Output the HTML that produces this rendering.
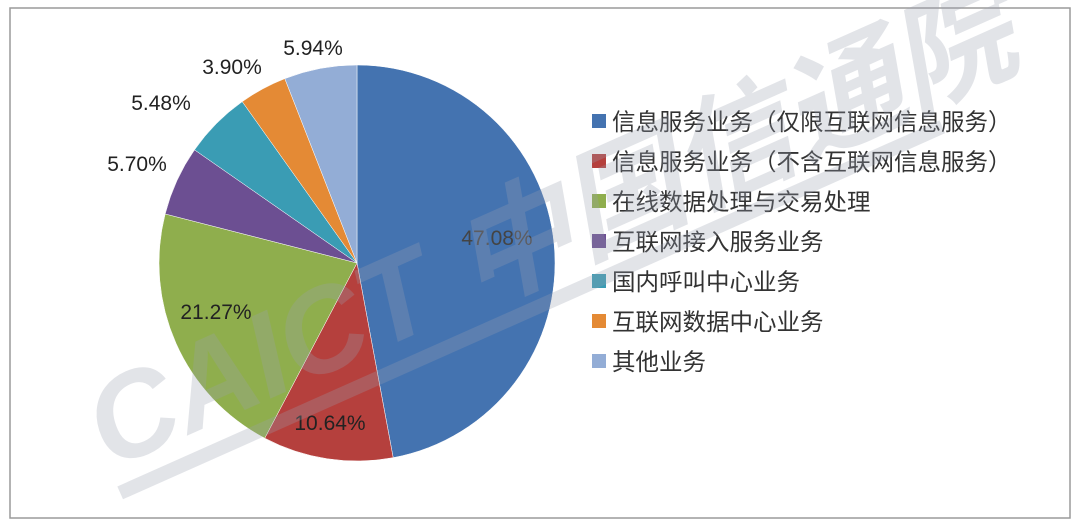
<!DOCTYPE html>
<html><head><meta charset="utf-8"><style>
body{margin:0;background:#fff;}
svg{display:block;font-family:"Liberation Sans","Noto Sans CJK SC",sans-serif;}
</style></head><body>
<svg id="s" width="1080" height="527" viewBox="0 0 1080 527">
<rect x="10" y="8" width="1060" height="510" fill="#fff" stroke="#9a9a9a" stroke-width="1.5"/>
<g id="pie"></g>
<g font-size="21" fill="#222" text-anchor="middle">
<text x="497" y="245" fill="#444">47.08%</text>
<text x="330" y="430">10.64%</text>
<text x="216" y="319">21.27%</text>
<text x="137" y="171">5.70%</text>
<text x="161" y="110">5.48%</text>
<text x="232" y="74">3.90%</text>
<text x="313" y="55">5.94%</text>
</g>
<g font-size="23.5" fill="#333">
<rect x="592" y="114" width="14" height="14" fill="#4473b0"/><text x="612" y="130">信息服务业务（仅限互联网信息服务）</text>
<rect x="592" y="154" width="14" height="14" fill="#b5403d"/><text x="612" y="170">信息服务业务（不含互联网信息服务）</text>
<rect x="592" y="194" width="14" height="14" fill="#8fae4d"/><text x="612" y="210">在线数据处理与交易处理</text>
<rect x="592" y="234" width="14" height="14" fill="#6c4f92"/><text x="612" y="250">互联网接入服务业务</text>
<rect x="592" y="274" width="14" height="14" fill="#3a9cb4"/><text x="612" y="290">国内呼叫中心业务</text>
<rect x="592" y="314" width="14" height="14" fill="#e48a35"/><text x="612" y="330">互联网数据中心业务</text>
<rect x="592" y="354" width="14" height="14" fill="#93add6"/><text x="612" y="370">其他业务</text>
</g>
<g transform="translate(110,470) rotate(-24)" opacity="0.28">
<text x="0" y="0" font-size="120" font-weight="bold" font-style="italic" fill="#9aa0b0">CAICT 中国信通院</text>
<rect x="0" y="18" width="900" height="14" fill="#9aa0b0"/>
</g>
</svg>
<script>
var d=[[47.08,"#4473b0"],[10.64,"#b5403d"],[21.27,"#8fae4d"],[5.70,"#6c4f92"],[5.48,"#3a9cb4"],[3.90,"#e48a35"],[5.94,"#93add6"]];
var cx=357,cy=263,r=198,a=0,tot=0;d.forEach(function(x){tot+=x[0]});
var g=document.getElementById("pie"),h="";
d.forEach(function(x){var a2=a+x[0]/tot*2*Math.PI;
var x1=cx+r*Math.sin(a),y1=cy-r*Math.cos(a),x2=cx+r*Math.sin(a2),y2=cy-r*Math.cos(a2);
h+='<path d="M'+cx+','+cy+'L'+x1+','+y1+'A'+r+','+r+' 0 '+((a2-a)>Math.PI?1:0)+' 1 '+x2+','+y2+'Z" fill="'+x[1]+'" stroke="#fff" stroke-width="0.5"/>';a=a2;});
g.innerHTML=h;
</script>
</body></html>
